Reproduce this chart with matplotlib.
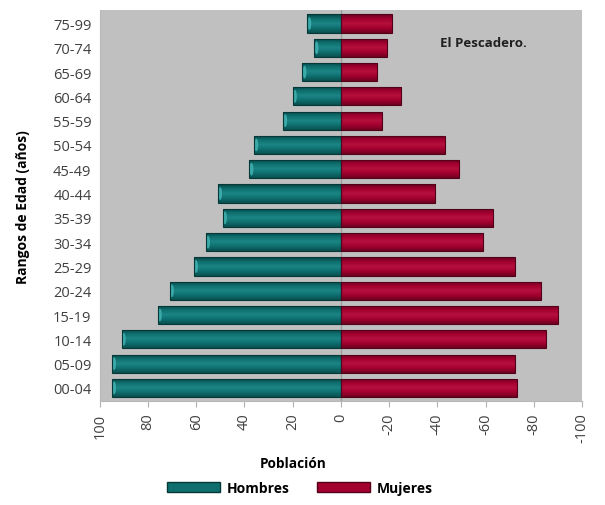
import numpy as np
import matplotlib.pyplot as plt
from matplotlib.colors import LinearSegmentedColormap
from matplotlib.patches import Patch, Ellipse

grupos = ['00-04', '05-09', '10-14', '15-19', '20-24', '25-29', '30-34', '35-39',
          '40-44', '45-49', '50-54', '55-59', '60-64', '65-69', '70-74', '75-99']
hombres = [95, 95, 91, 76, 71, 61, 56, 49, 51, 38, 36, 24, 20, 16, 11, 14]
mujeres = [73, 72, 85, 90, 83, 72, 59, 63, 39, 49, 43, 17, 25, 15, 19, 21]
ticks_x = [100, 80, 60, 40, 20, 0, -20, -40, -60, -80, -100]

plt.rcParams['font.family'] = ['Open Sans', 'DejaVu Sans']

fig = plt.figure(figsize=(6.05, 5.06), dpi=100)
ax = fig.add_axes([0.165, 0.205, 0.797, 0.773])
ax.set_facecolor('#C0C0C0')

y = np.arange(len(grupos))
alto = 0.75

# colores tipo cilindro: claro arriba, oscuro abajo
verde = LinearSegmentedColormap.from_list('verde', ['#0A4F4F', '#0E6F6E', '#1C8585', '#0E6F6E', '#084545'])
rojo = LinearSegmentedColormap.from_list('rojo', ['#6E0020', '#A3002F', '#B5103E', '#A3002F', '#680020'])
grad = np.linspace(0, 1, 64).reshape(-1, 1)

def barras(valores, cmap, borde, tapa, tapa_en_cero):
    bars = ax.barh(y, valores, height=alto, color='none', edgecolor=borde, linewidth=0.8, zorder=3)
    for b in bars:
        x0, y0 = b.get_x(), b.get_y()
        w, h = b.get_width(), b.get_height()
        im = ax.imshow(grad, cmap=cmap, aspect='auto', origin='lower',
                       extent=(x0, x0 + w, y0, y0 + h), zorder=2)
        im.set_clip_path(b)
        # tapa del cilindro
        xc = x0 if tapa_en_cero else x0 + w
        sentido = -1 if w > 0 else 1
        e = Ellipse((xc + sentido * 0.9, y0 + h / 2), 1.6, h * 0.7,
                    facecolor=tapa, edgecolor='none', alpha=0.9, zorder=2.5)
        ax.add_patch(e)
        e.set_clip_path(b)
    return bars

barras(hombres, verde, '#063838', '#3FAFAE', False)
barras([-m for m in mujeres], rojo, '#55001A', '#E8306A', True)

ax.axvline(0, color='#9A9A9A', lw=0.9, zorder=1)

ax.set_xlim(100, -100)
ax.set_ylim(-0.55, len(grupos) - 0.45)
ax.set_xticks(ticks_x)
ax.set_xticklabels([str(t) for t in ticks_x], rotation=90, fontsize=10.5, color='#404040')
ax.set_yticks(y)
ax.set_yticklabels(grupos, fontsize=10.5, color='#404040')
ax.tick_params(axis='y', length=0, pad=6)
ax.tick_params(axis='x', length=4, color='#B0B0B0', pad=4)
for s in ['top', 'right']:
    ax.spines[s].set_visible(False)
for s in ['left', 'bottom']:
    ax.spines[s].set_color('#B8B8B8')

ax.set_ylabel('Rangos de Edad (años)', fontsize=10, fontweight='bold')
ax.yaxis.set_label_coords(-0.145, 0.5)
ax.set_xlabel('Población', fontsize=9.8, fontweight='bold')
ax.xaxis.set_label_coords(0.40, -0.14)

ax.text(0.705, 0.918, 'El Pescadero.', transform=ax.transAxes, fontsize=9.5,
        fontweight='bold', color='#202020', ha='left', va='center')

handles = [Patch(facecolor='#0E6F6E', edgecolor='#063838', label='Hombres'),
           Patch(facecolor='#A3002F', edgecolor='#55001A', label='Mujeres')]
leg = fig.legend(handles=handles, loc='center', bbox_to_anchor=(0.496, 0.034), ncol=2,
                 frameon=False, handlelength=3.8, handleheight=0.7, columnspacing=2.0,
                 handletextpad=0.5, prop={'size': 10, 'weight': 'bold'})

fig.savefig('out.png', dpi=100)
